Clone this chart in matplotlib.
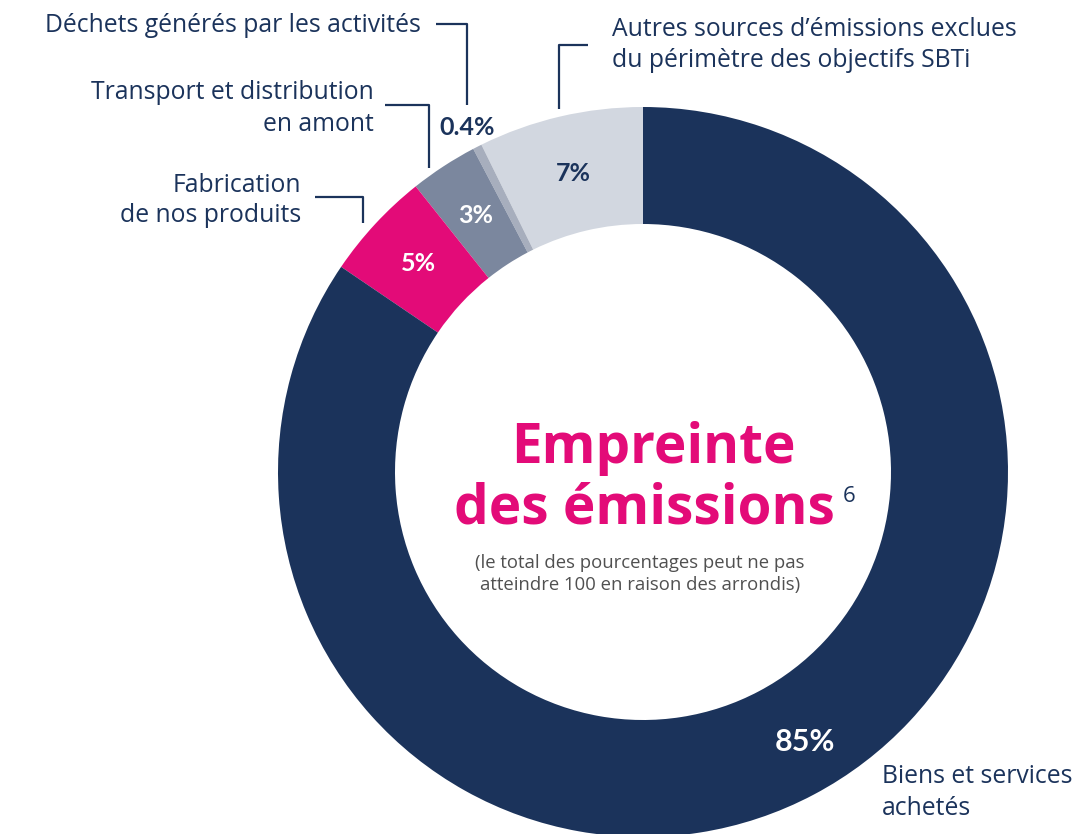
import numpy as np
import matplotlib.pyplot as plt

plt.rcParams['font.family'] = ['Open Sans', 'DejaVu Sans']

# Données (ordre anti-horaire à partir du haut)
categories = [
    "Autres sources d’émissions exclues\ndu périmètre des objectifs SBTi",
    "Déchets générés par les activités",
    "Transport et distribution\nen amont",
    "Fabrication\nde nos produits",
    "Biens et services\nachetés",
]
valeurs = [7.3, 0.4, 3.0, 4.8, 84.5]
etiquettes = ["7%", "0.4%", "3%", "5%", "85%"]

couleurs = ["#D2D7E0", "#A7AEBD", "#7B879E", "#E30B78", "#1B335B"]
couleurs_txt = ["#1B335B", "#1B335B", "white", "white", "white"]
NAVY = "#1B335B"
PINK = "#E30B78"

W, H = 1088, 834
cx, cy = 643, 472
R, r = 365, 248


def Y(py):
    return H - py


fig = plt.figure(figsize=(W / 100, H / 100), dpi=100)
ax = fig.add_axes([0, 0, 1, 1])

wedges, _ = ax.pie(valeurs, colors=couleurs, radius=R, center=(cx, Y(cy)),
                   startangle=90, counterclock=True,
                   wedgeprops=dict(width=R - r, linewidth=0))

# Pourcentages
for i, w in enumerate(wedges):
    mid = (w.theta1 + w.theta2) / 2
    if valeurs[i] > 50:
        mid += 3
        rad = (R + r) / 2 + 8
    elif valeurs[i] > 1:
        rad = (R + r) / 2
    else:
        rad = R + 22
    mid = np.deg2rad(mid)
    x = cx + rad * np.cos(mid)
    y = Y(cy) + rad * np.sin(mid)
    size = 22 if valeurs[i] > 50 else 18
    ax.text(x, y, etiquettes[i], ha='center', va='center', fontsize=size,
            fontweight='bold', color=couleurs_txt[i], family=['Lato'])

# Libellés des catégories
lab = dict(fontsize=17.8, color=NAVY, va='baseline')
l0 = categories[0].split("\n")
ax.text(612, Y(36), l0[0], ha='left', **lab)
ax.text(612, Y(67), l0[1], ha='left', **lab)
ax.text(421, Y(32), categories[1], ha='right', **lab)
l2 = categories[2].split("\n")
ax.text(374, Y(99), l2[0], ha='right', **lab)
ax.text(374, Y(131), l2[1], ha='right', **lab)
l3 = categories[3].split("\n")
ax.text(301, Y(192), l3[0], ha='right', **lab)
ax.text(301, Y(222), l3[1], ha='right', **lab)
l4 = categories[4].split("\n")
ax.text(882, Y(783), l4[0], ha='left', **lab)
ax.text(882, Y(815), l4[1], ha='left', **lab)

# Traits de rappel
trait = dict(color=NAVY, lw=1.6, solid_capstyle='butt')
ax.plot([588, 559, 559], [Y(45), Y(45), Y(109)], **trait)
ax.plot([436, 467, 467], [Y(24), Y(24), Y(105)], **trait)
ax.plot([385, 429, 429], [Y(105), Y(105), Y(168)], **trait)
ax.plot([315, 363, 363], [Y(197), Y(197), Y(223)], **trait)

# Titre central
ax.text(653, Y(463), "Empreinte", ha='center', va='baseline', fontsize=39.5,
        fontweight='bold', color=PINK)
t2 = ax.text(644, Y(523), "des émissions", ha='center', va='baseline',
             fontsize=39.5, fontweight='bold', color=PINK)
ax.text(640, Y(568), "(le total des pourcentages peut ne pas", ha='center',
        va='baseline', fontsize=13.3, color="#505050")
ax.text(640, Y(590), "atteindre 100 en raison des arrondis)", ha='center',
        va='baseline', fontsize=13.3, color="#505050")

ax.set_xlim(0, W)
ax.set_ylim(0, H)
ax.set_aspect('equal')
ax.axis('off')

# exposant placé juste après le titre
fig.canvas.draw()
bb = t2.get_window_extent()
ax.text(bb.x1 + 8, Y(502), "6", ha='left', va='baseline', fontsize=16,
        color=NAVY)

fig.savefig("out.png", dpi=100)
